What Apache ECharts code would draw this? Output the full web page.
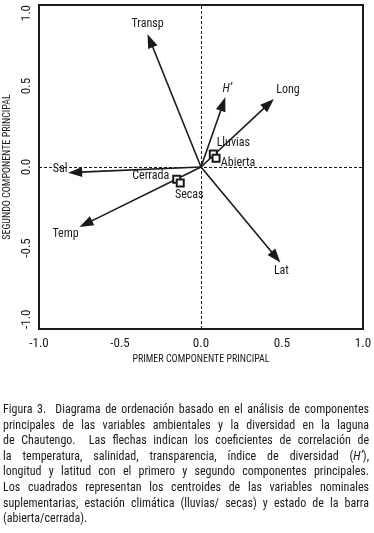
<!DOCTYPE html>
<html>
<head>
<meta charset="utf-8">
<script src="https://cdn.jsdelivr.net/npm/echarts@6/dist/echarts.min.js"></script>
<style>
html,body{margin:0;padding:0;background:#fff;}
#chart{width:374px;height:533px;}
</style>
</head>
<body>
<div id="chart"></div>
<script>
// ---- data ----
const variableNames = ['Transp', '{i|H\u2019}', 'Long', 'Sal', 'Temp', 'Lat'];
const variablePC1 = [-0.33, 0.15, 0.45, -0.82, -0.75, 0.49];
const variablePC2 = [0.82, 0.43, 0.42, -0.035, -0.37, -0.59];

const centroidNames = ['Lluvias', 'Abierta', 'Cerrada', 'Secas'];
const centroidPC1 = [0.076, 0.093, -0.150, -0.128];
const centroidPC2 = [0.080, 0.054, -0.076, -0.099];

const axisTicks = [-1.0, -0.5, 0.0, 0.5, 1.0];
const xAxisTitle = 'PRIMER COMPONENTE PRINCIPAL';
const yAxisTitle = 'SEGUNDO COMPONENTE PRINCIPAL';

const captionLines = [
  'Figura 3.  Diagrama de ordenación basado en el análisis de componentes',
  'principales de las variables ambientales y la diversidad en la laguna',
  'de Chautengo.  Las flechas indican los coeficientes de correlación de',
  'la temperatura, salinidad, transparencia, índice de diversidad ({i|H\u2019}),',
  'longitud y latitud con el primero y segundo componentes principales.',
  'Los cuadrados representan los centroides de las variables nominales',
  'suplementarias, estación climática (lluvias/ secas) y estado de la barra',
  '(abierta/cerrada).'
];

// ---- styling (not data) ----
const FONT = "'Liberation Sans Narrow', 'Arial Narrow', 'Roboto Condensed', 'Liberation Sans', sans-serif";
const INK = '#1a1a1a';
const arrowLabelOffsets = [[0, -10], [2, -8], [14, -9], [-8, -4], [-14, 7], [1, 8]];
const centroidLabelOffsets = [[20, -11.5], [22, 5], [-26, -3], [9, 12]];

const chart = echarts.init(document.getElementById('chart'), null, {renderer: 'canvas'});

// caption justification helpers
const mctx = document.createElement('canvas').getContext('2d');
const CAP_SIZE = 12;
function segs(word) {
  const out = [];
  const re = /\{i\|([^}]*)\}/g;
  let last = 0, m;
  while ((m = re.exec(word))) {
    if (m.index > last) out.push({t: word.slice(last, m.index), it: false});
    out.push({t: m[1], it: true});
    last = re.lastIndex;
  }
  if (last < word.length) out.push({t: word.slice(last), it: false});
  return out;
}
function measure(word) {
  let w = 0;
  segs(word).forEach(s => {
    mctx.font = (s.it ? 'italic ' : '') + CAP_SIZE + 'px ' + FONT;
    w += mctx.measureText(s.t).width;
  });
  return w;
}
const capLeft = 3, capRight = 369, capTop = 410, capLead = 15.6;
const captionEls = [];
captionLines.forEach((line, li) => {
  const words = line.split(' ');
  const widths = words.map(measure);
  const total = widths.reduce((a, b) => a + b, 0);
  const justify = li < captionLines.length - 1;
  mctx.font = CAP_SIZE + 'px ' + FONT;
  const spaceW = mctx.measureText(' ').width;
  const gap = justify ? (capRight - capLeft - total) / (words.length - 1) : spaceW;
  let x = capLeft;
  words.forEach((w, wi) => {
    if (w.length) {
      captionEls.push({
        type: 'text', x: x, y: capTop + li * capLead, silent: true,
        style: {text: w, fontSize: CAP_SIZE, fontFamily: FONT, fill: INK,
          verticalAlign: 'middle', align: 'left',
          rich: {i: {fontStyle: 'italic', fontSize: CAP_SIZE, fontFamily: FONT, fill: INK}}}
      });
    }
    x += widths[wi] + gap;
  });
});

const arrowData = variableNames.map((n, i) => [variablePC1[i], variablePC2[i], i]);
const centroidData = centroidNames.map((n, i) => ({
  value: [centroidPC1[i], centroidPC2[i]],
  name: n,
  label: {offset: centroidLabelOffsets[i]}
}));

const option = {
  animation: false,
  backgroundColor: '#fff',
  grid: {left: 39, top: 5, width: 324, height: 324, show: true,
    containLabel: false, outerBoundsMode: 'none',
    borderColor: INK, borderWidth: 2, backgroundColor: 'transparent'},
  xAxis: {
    type: 'value', min: -1, max: 1, interval: 0.5,
    axisLine: {show: false}, axisTick: {show: false}, splitLine: {show: false},
    axisLabel: {margin: 8, fontSize: 13, fontFamily: FONT, color: INK,
      formatter: v => v.toFixed(1)},
    name: xAxisTitle, nameLocation: 'middle', nameGap: 24,
    nameTextStyle: {fontSize: 10, fontFamily: FONT, color: INK}
  },
  yAxis: {
    type: 'value', min: -1, max: 1, interval: 0.5,
    axisLine: {show: false}, axisTick: {show: false}, splitLine: {show: false},
    axisLabel: {margin: 6, fontSize: 13, fontFamily: FONT, color: INK, rotate: 90,
      alignMinLabel: 'left', alignMaxLabel: 'right',
      formatter: v => v.toFixed(1)},
    name: yAxisTitle, nameLocation: 'middle', nameGap: 27, nameRotate: 90,
    nameTextStyle: {fontSize: 10, fontFamily: FONT, color: INK}
  },
  graphic: {elements: captionEls},
  series: [
    {
      type: 'scatter', data: [], silent: true,
      markLine: {
        silent: true, symbol: 'none', label: {show: false},
        lineStyle: {type: [3, 2], color: INK, width: 1},
        data: [{xAxis: 0}, {yAxis: 0}]
      }
    },
    {
      type: 'custom', silent: true, data: arrowData,
      renderItem: function (params, api) {
        const o = api.coord([0, 0]);
        const t = api.coord([api.value(0), api.value(1)]);
        const idx = api.value(2);
        const dx = t[0] - o[0], dy = t[1] - o[1];
        const len = Math.sqrt(dx * dx + dy * dy);
        const ux = dx / len, uy = dy / len;
        const hl = 14, hw = 5;
        const bx = t[0] - ux * hl, by = t[1] - uy * hl;
        const off = arrowLabelOffsets[idx];
        return {
          type: 'group',
          children: [
            {type: 'line', shape: {x1: o[0], y1: o[1], x2: bx + ux * 2, y2: by + uy * 2},
              style: {stroke: INK, lineWidth: 1.6}},
            {type: 'polygon', shape: {points: [[t[0], t[1]], [bx - uy * hw, by + ux * hw], [bx + uy * hw, by - ux * hw]]},
              style: {fill: INK}},
            {type: 'text', x: t[0] + off[0], y: t[1] + off[1],
              style: {text: variableNames[idx], fontSize: 12, fontFamily: FONT, fill: INK,
                align: 'center', verticalAlign: 'middle',
                rich: {i: {fontStyle: 'italic', fontSize: 12, fontFamily: FONT, fill: INK}}}}
          ]
        };
      }
    },
    {
      type: 'scatter', silent: true, data: centroidData,
      symbol: 'rect', symbolSize: 7,
      itemStyle: {color: '#fff', borderColor: INK, borderWidth: 2, opacity: 1},
      label: {show: true, position: 'inside', formatter: p => p.name,
        fontSize: 12, fontFamily: FONT, color: INK, align: 'center', verticalAlign: 'middle'},
      z: 5
    }
  ]
};
chart.setOption(option);
</script>
</body>
</html>
